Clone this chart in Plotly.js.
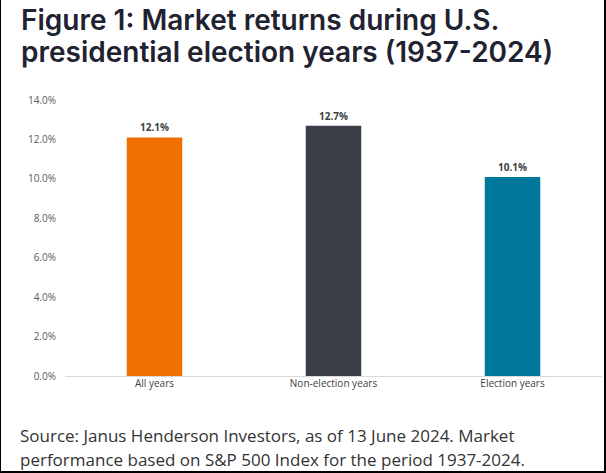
<!DOCTYPE html>
<html>
<head>
<meta charset="utf-8">
<script src="https://cdn.plot.ly/plotly-3.0.1.min.js"></script>
<style>
html,body{margin:0;padding:0;background:#fff;}
#wrap{position:relative;width:606px;height:473px;overflow:hidden;}
#chart{width:606px;height:473px;}
#frame{position:absolute;left:0;top:0;width:606px;height:473px;box-sizing:border-box;border-left:1px solid #000;border-right:2px solid #000;border-bottom:2px solid #000;pointer-events:none;}
</style>
</head>
<body>
<div id="wrap"><div id="chart"></div><div id="frame"></div></div>
<script>
const categories = ["All years", "Non-election years", "Election years"];
const returns = [12.1, 12.7, 10.1];
const barColors = ["#f07000", "#3a3d47", "#00789c"];
const yTicks = [0, 2, 4, 6, 8, 10, 12, 14];

const trace = {
  type: "bar",
  x: categories,
  y: returns,
  marker: {color: barColors},
  text: returns.map(v => v.toFixed(1) + "%"),
  textposition: "outside",
  textfont: {family: "Open Sans, sans-serif", size: 10, color: "#404040", weight: 700},
  cliponaxis: false,
  hoverinfo: "skip"
};

const layout = {
  width: 606, height: 473,
  margin: {l: 65, r: 4, t: 100, b: 97},
  paper_bgcolor: "#fff", plot_bgcolor: "#fff",
  showlegend: false,
  bargap: 0.69,
  font: {family: "Open Sans, sans-serif"},
  xaxis: {
    type: "category",
    showgrid: false, zeroline: false,
    showline: false,
    ticks: "",
    tickfont: {family: "Open Sans, sans-serif", size: 10, color: "#404040"},
    fixedrange: true
  },
  yaxis: {
    range: [0, 14],
    tickvals: yTicks,
    ticktext: yTicks.map(v => v.toFixed(1) + "%"),
    showgrid: false,
    zeroline: true, zerolinecolor: "#d9d9d9", zerolinewidth: 1,
    showline: false, ticks: "",
    ticklabelstandoff: 8,
    tickfont: {family: "Open Sans, sans-serif", size: 10, color: "#595959"},
    fixedrange: true
  },
  annotations: [
    {xref: "paper", yref: "paper", x: -65/537, y: 1 + 99/276, xanchor: "left", yanchor: "top",
     xshift: 19, text: "Figure 1: Market returns during U.S.", showarrow: false, align: "left",
     font: {family: "Inter, sans-serif", size: 28, color: "#1f2230", weight: 600}},
    {xref: "paper", yref: "paper", x: -65/537, y: 1 + 67/276, xanchor: "left", yanchor: "top",
     xshift: 19, text: "presidential election years (1937-2024)", showarrow: false, align: "left",
     font: {family: "Inter, sans-serif", size: 28, color: "#1f2230", weight: 600}},
    {xref: "paper", yref: "paper", x: -65/537, y: -46/276, xanchor: "left", yanchor: "top",
     xshift: 18, text: "Source: Janus Henderson Investors, as of 13 June 2024. Market", showarrow: false, align: "left",
     font: {family: "Open Sans, sans-serif", size: 17, color: "#333333"}},
    {xref: "paper", yref: "paper", x: -65/537, y: -70/276, xanchor: "left", yanchor: "top",
     xshift: 18, text: "performance based on S&P 500 Index for the period 1937-2024.", showarrow: false, align: "left",
     font: {family: "Open Sans, sans-serif", size: 17, color: "#333333"}}
  ]
};

Plotly.newPlot("chart", [trace], layout, {displayModeBar: false, staticPlot: true});
</script>
</body>
</html>
